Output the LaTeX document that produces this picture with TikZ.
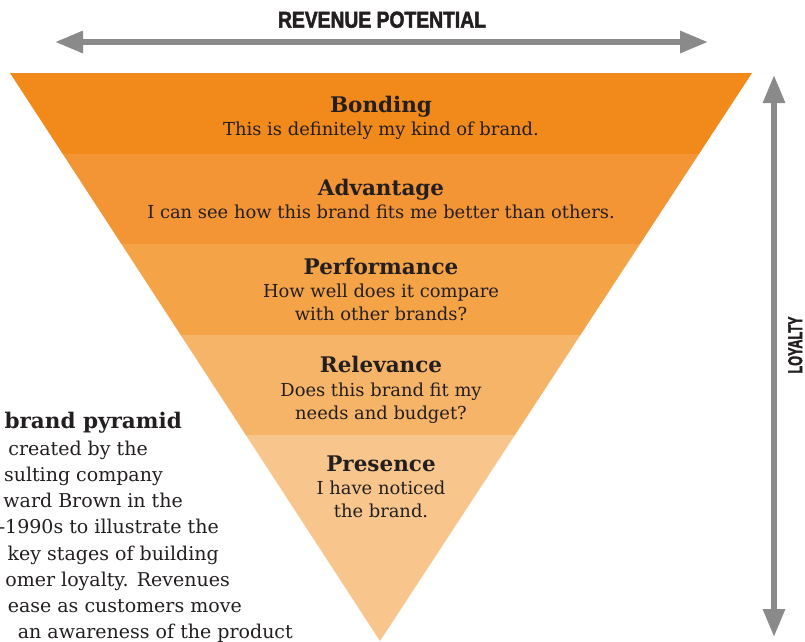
\documentclass[tikz,border=0pt]{standalone}
\usepackage{fontspec}
\usepackage{graphicx}
\usetikzlibrary{arrows.meta}
\setmainfont{DejaVu Serif}
\newfontfamily\bodyfont{DejaVu Serif}
\newfontfamily\headfont{DejaVu Serif}
\newfontfamily\axisfont[FakeBold=2.5]{Liberation Sans}
\definecolor{ink}{HTML}{231F20}
\definecolor{axisgray}{HTML}{8A8A8A}
\definecolor{bandA}{HTML}{F28A1B}
\definecolor{bandB}{HTML}{F39535}
\definecolor{bandC}{HTML}{F5A347}
\definecolor{bandD}{HTML}{F6B468}
\definecolor{bandE}{HTML}{F8C68C}
\begin{document}
\begin{tikzpicture}[x=1pt,y=-1pt,
  stagehead/.style={font=\headfont\bfseries\fontsize{21.5}{24}\selectfont, text=ink, anchor=base, inner sep=0pt},
  stagetext/.style={font=\bodyfont\fontsize{17.9}{21}\selectfont, text=ink, anchor=base, inner sep=0pt},
  sidehead/.style={font=\headfont\bfseries\fontsize{21.5}{24}\selectfont, text=ink, anchor=base east, inner sep=0pt},
  sidetext/.style={font=\bodyfont\fontsize{19}{24}\selectfont, text=ink, anchor=base east, inner sep=0pt},
  axisarrow/.style={draw=axisgray, line width=6pt, {Triangle[length=28pt,width=21pt]}-{Triangle[length=28pt,width=21pt]}},
  axislabel/.style={inner sep=0pt, text=ink}
]
\useasboundingbox (0,0) rectangle (805,641);
\fill[white] (0,0) rectangle (805,641);

% pyramid bands
\begin{scope}
  \clip (10,73) -- (752,73) -- (380,641) -- cycle;
  \fill[bandA] (0,73) rectangle (805,154);
  \fill[bandB] (0,154) rectangle (805,244);
  \fill[bandC] (0,244) rectangle (805,335);
  \fill[bandD] (0,335) rectangle (805,435);
  \fill[bandE] (0,435) rectangle (805,645);
\end{scope}

% stage texts
\node[stagehead] (bondH) at (381,112) {Bonding};
\node[stagetext] (bondT) at (381,135) {This is definitely my kind of brand.};
\node[stagehead] (advH) at (381,195) {Advantage};
\node[stagetext] (advT) at (381,218) {I can see how this brand fits me better than others.};
\node[stagehead] (perfH) at (381,274) {Performance};
\node[stagetext] (perfT1) at (381,297) {How well does it compare};
\node[stagetext] (perfT2) at (381,320) {with other brands?};
\node[stagehead] (relH) at (381,372) {Relevance};
\node[stagetext] (relT1) at (381,396) {Does this brand fit my};
\node[stagetext] (relT2) at (381,419) {needs and budget?};
\node[stagehead] (presH) at (381,471) {Presence};
\node[stagetext] (presT1) at (381,494) {I have noticed};
\node[stagetext] (presT2) at (381,517) {the brand.};

% side text (cut off at the left edge)
\node[sidehead] (sideH) at (182,428) {brand pyramid};
\node[sidetext] (s1) at (148,455) {created by the};
\node[sidetext] (s2) at (163,481.3) {sulting company};
\node[sidetext] (s3) at (183,507.6) {ward Brown in the};
\node[sidetext] (s4) at (219,533.9) {-1990s to illustrate the};
\node[sidetext] (s5) at (219,560.2) {key stages of building};
\node[sidetext] (s6) at (230,586.5) {omer loyalty. Revenues};
\node[sidetext] (s7) at (242,612.8) {ease as customers move};
\node[sidetext] (s8) at (293,638.5) {an awareness of the product};

% axes
\coordinate (revL) at (55,42);
\coordinate (revR) at (708,42);
\draw[axisarrow] (revL) -- (revR);
\node[axislabel, anchor=south] (revLabel) at (382,28) {\resizebox{208pt}{16pt}{\axisfont\bfseries REVENUE POTENTIAL}};

\coordinate (loyT) at (774,75);
\coordinate (loyB) at (774,637);
\draw[axisarrow] (loyT) -- (loyB);
\node[axislabel, anchor=east] (loyLabel) at (802.5,345) {\rotatebox{90}{\resizebox{57pt}{14pt}{\axisfont\bfseries LOYALTY}}};
\end{tikzpicture}
\end{document}
